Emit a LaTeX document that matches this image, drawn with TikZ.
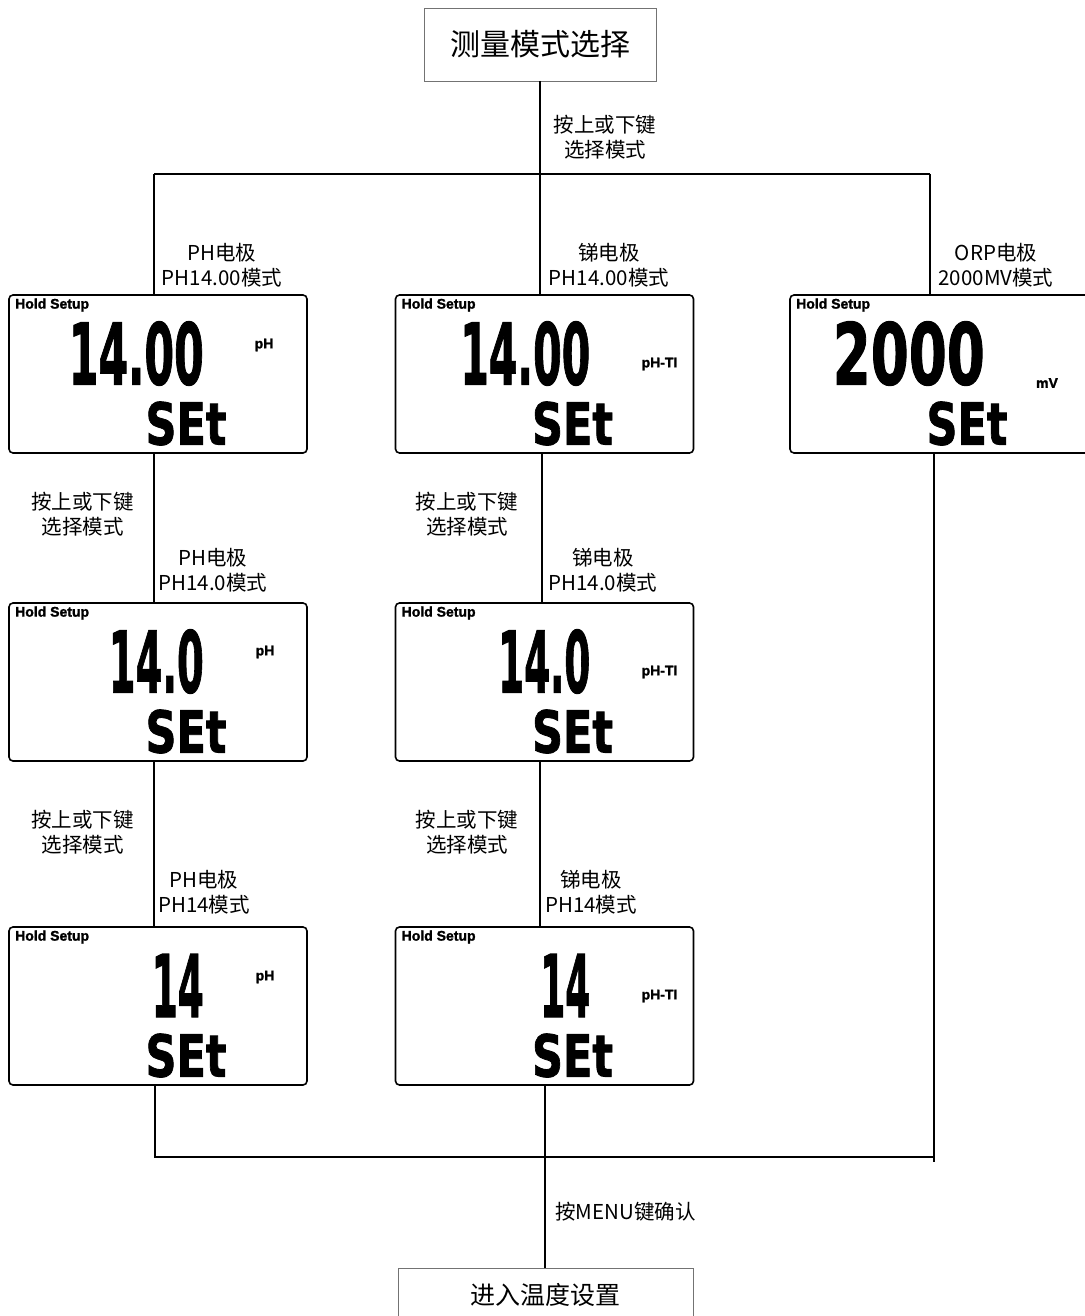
\documentclass[tikz,border=0pt]{standalone}
\usepackage{fontspec}
\newfontfamily\cjk{Noto Sans CJK SC}
\newfontfamily\lcdfont{DejaVu Sans}[BoldFeatures={FakeBold=1.5}]
\newfontfamily\arb{Liberation Sans}[BoldFeatures={FakeBold=1.6}]
\usetikzlibrary{calc}
\newcommand\lcdtxt[3]{\resizebox{#1pt}{#2pt}{\lcdfont\bfseries #3}}
% #1 panel, #2 digit width, #3 digits, #4 unit x, #5 unit y, #6 unit text
\newcommand\lcdcontent[6]{%
  \node[hold] (#1-hold) at ($(#1.north west)+(6,10)$) {Hold Setup};
  \node[dig] (#1-num) at ($(#1.north west)+(195,58.5)$) {\lcdtxt{#2}{63}{#3}};
  \node[unit] (#1-unit) at ($(#1.north west)+(#4,#5)$) {#6};
  \node[setx] (#1-set) at ($(#1.north west)+(177,128.5)$) {\lcdtxt{81}{43}{SEt}};
}
\begin{document}
\begin{tikzpicture}[x=1pt,y=-1pt,
  box/.style={draw=black!55, line width=0.9pt, inner sep=0pt, outer sep=0pt},
  panel/.style={draw, line width=1.6pt, rounded corners=4pt, minimum width=298pt, minimum height=158pt, inner sep=0pt, outer sep=0pt},
  lbl/.style={font=\cjk\fontsize{20.5}{25}\selectfont, align=center, inner sep=0pt},
  conn/.style={line width=1.4pt},
  hold/.style={anchor=west, inner sep=0pt, font=\arb\bfseries\fontsize{14}{15}\selectfont},
  unit/.style={inner sep=0pt, font=\arb\bfseries\fontsize{14}{15}\selectfont},
  dig/.style={anchor=east, inner sep=0pt},
  setx/.style={inner sep=0pt}]
\useasboundingbox (0,0) rectangle (1084,1316);

% boxes
\node[box, minimum width=232pt, minimum height=73pt, font=\cjk\fontsize{30}{32}\selectfont] (top) at (540,44.5) {测量模式选择};
\node[box, minimum width=295pt, minimum height=54pt, font=\cjk\fontsize{25}{28}\selectfont] (bot) at (545.5,1295) {进入温度设置};

% panels
\node[panel] (p11) at (158,374) {};
\node[panel] (p12) at (544.5,374) {};
\node[panel, minimum width=304pt] (p13) at (942,374) {};
\node[panel] (p21) at (158,682) {};
\node[panel] (p22) at (544.5,682) {};
\node[panel] (p31) at (158,1006) {};
\node[panel] (p32) at (544.5,1006) {};

\lcdcontent{p11}{135}{14.00}{255}{50}{pH}
\lcdcontent{p12}{130}{14.00}{264}{69}{pH-TI}
\lcdcontent{p13}{152}{2000}{257}{88}{mV}
\lcdcontent{p21}{95}{14.0}{256}{49}{pH}
\lcdcontent{p22}{92}{14.0}{264}{69}{pH-TI}
\lcdcontent{p31}{52}{14}{256}{50}{pH}
\lcdcontent{p32}{50}{14}{264}{69}{pH-TI}

% labels
\node[lbl] (ltop) at (605,137.5) {按上或下键\\选择模式};
\node[lbl] (l1a) at (222,265.5) {PH电极\\PH14.00模式};
\node[lbl] (l1b) at (609,265.5) {锑电极\\PH14.00模式};
\node[lbl] (l1c) at (996,265.5) {ORP电极\\2000MV模式};
\node[lbl] (s1l) at (82.5,514.5) {按上或下键\\选择模式};
\node[lbl] (s1m) at (467,514.5) {按上或下键\\选择模式};
\node[lbl] (l2a) at (213,570.5) {PH电极\\PH14.0模式};
\node[lbl] (l2b) at (603,570.5) {锑电极\\PH14.0模式};
\node[lbl] (s2l) at (82.5,832.5) {按上或下键\\选择模式};
\node[lbl] (s2m) at (467,832.5) {按上或下键\\选择模式};
\node[lbl] (l3a) at (204,892) {PH电极\\PH14模式};
\node[lbl] (l3b) at (591,892) {锑电极\\PH14模式};
\node[lbl, anchor=west] (menu) at (555,1212) {按MENU键确认};

% connectors
\coordinate (jt) at (540,174);
\coordinate (jl) at (154,174);
\coordinate (jr) at (930,174);
\coordinate (m1) at (542,0);
\coordinate (m2) at (540,0);
\coordinate (bl) at (155,1157);
\coordinate (bm) at (545,1157);
\coordinate (br) at (934,1157);
\coordinate (brend) at (934,1162);

\draw[conn] (top.south) -- (jt);
\draw[conn] (jl) -- (jr);
\draw[conn] (jl) -- (jl |- p11.north);
\draw[conn] (jt) -- (jt |- p12.north);
\draw[conn] (jr) -- (jr |- p13.north);
\draw[conn] (p11.south -| jl) -- (p21.north -| jl);
\draw[conn] (p21.south -| jl) -- (p31.north -| jl);
\draw[conn] (p12.south -| m1) -- (p22.north -| m1);
\draw[conn] (p22.south -| m2) -- (p32.north -| m2);
\draw[conn] (p31.south -| bl) -- (bl) -- (br);
\draw[conn] (p13.south -| br) -- (brend);
\draw[conn] (p32.south -| bm) -- (bot.north -| bm);
\end{tikzpicture}
\end{document}
